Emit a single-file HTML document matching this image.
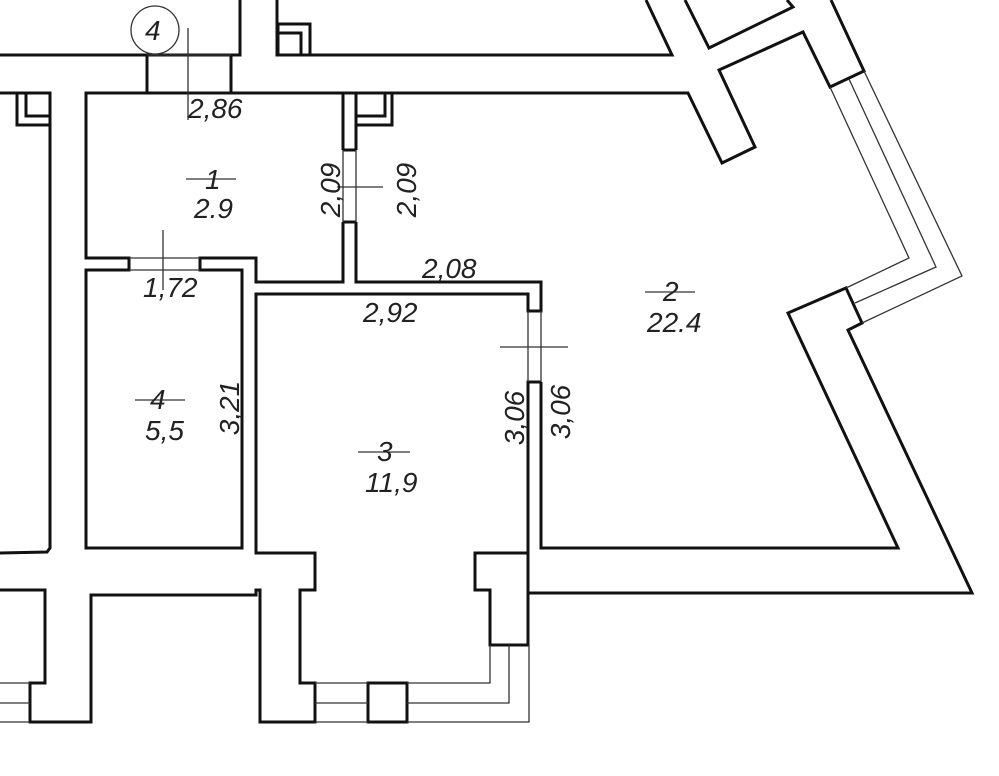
<!DOCTYPE html>
<html><head><meta charset="utf-8"><style>
html,body{margin:0;padding:0;background:#fff;}
svg{display:block}
text{font-family:"Liberation Sans",sans-serif;font-style:italic;font-size:28px;fill:#222;}
</style></head><body>
<svg width="999" height="776" viewBox="0 0 999 776" xmlns="http://www.w3.org/2000/svg">
<g fill="none" stroke="#111" stroke-width="3" stroke-linejoin="miter">
<polyline points="240,0 240,55 0,55"/>
<line x1="147" y1="55" x2="147" y2="93"/>
<line x1="231" y1="55" x2="231" y2="93"/>
<polyline points="277,0 277,55 672,55 646,0"/>
<polyline points="278,55 278,24 310,24 310,55"/>
<polyline points="301,55 301,33 278,33"/>
<polyline points="0,93 50,93 50,548 47,552 0,553"/>
<polyline points="17,93 17,125 50,125"/>
<polyline points="26,93 26,116 50,116"/>
<polyline points="356,93 343,93 86,93 86,258 129,258 129,270 86,270 86,548 242,548 242,270 200,270 200,258 256,258 256,282 343,282 343,222"/>
<line x1="343" y1="93" x2="343" y2="150"/>
<polyline points="343,150 356,150"/>
<polyline points="343,222 356,222"/>
<polyline points="356,150 356,93 688,93 722,163 755,147 719,70 803,32 830,87 864,71 831,0"/>
<polyline points="685,0 709,48 793,7 787,0"/>
<polyline points="356,222 356,282 541,282 541,311 528,311 528,294 256,294 256,553 315,553 315,590 300,590 300,683 315,683 315,722 260,722 260,590 256,590 256,595 91,595 91,722 30,722 30,683 45,683 45,590 0,590"/>
<polyline points="392,93 392,125 356,125"/>
<polyline points="385,93 385,116 356,116"/>
<polyline points="541,382 528,382 528,645 490,645 490,590 475,590 475,553 528,553"/>
<polyline points="541,382 541,548 898,548 788,313 846,288 862,323 848,330 972,593 528,593"/>
<rect x="368" y="683" width="39" height="39"/>
</g>
<g fill="none" stroke="#333" stroke-width="1.3">
<polyline points="830,87 909,258 846,288"/>
<polyline points="849,79 936,267 855,303"/>
<polyline points="864,71 962,276 862,323"/>
<line x1="315" y1="683" x2="368" y2="683"/>
<line x1="315" y1="703" x2="368" y2="703"/>
<line x1="315" y1="722" x2="368" y2="722"/>
<polyline points="407,683 490,683 490,645"/>
<polyline points="407,703 509,703 509,645"/>
<polyline points="407,722 529,722 529,645"/>
<line x1="0" y1="703" x2="30" y2="703"/>
<line x1="0" y1="683" x2="30" y2="683"/>
<line x1="0" y1="722" x2="30" y2="722"/>
<line x1="147" y1="55" x2="231" y2="55"/>
<line x1="129" y1="270" x2="200" y2="270"/>
<line x1="129" y1="258" x2="200" y2="258"/>
<line x1="343" y1="150" x2="343" y2="222"/>
<line x1="356" y1="150" x2="356" y2="222"/>
<line x1="528" y1="311" x2="528" y2="382"/>
<line x1="541" y1="311" x2="541" y2="382"/>
<line x1="188" y1="28" x2="188" y2="120"/>
<line x1="337" y1="187" x2="383" y2="187"/>
<line x1="163" y1="230" x2="163" y2="290"/>
<line x1="500" y1="347" x2="568" y2="347"/>
<circle cx="155" cy="30" r="24"/>
<line x1="186" y1="179" x2="236" y2="179"/>
<line x1="645" y1="292" x2="695" y2="292"/>
<line x1="135" y1="400" x2="185" y2="400"/>
<line x1="358" y1="452" x2="410" y2="452"/>
</g>
<text x="145" y="40" font-size="26">4</text>
<text x="188" y="118">2,86</text>
<text x="205" y="189">1</text>
<text x="194" y="218">2.9</text>
<text x="143" y="297">1,72</text>
<text x="422" y="278">2,08</text>
<text x="363" y="322">2,92</text>
<text x="663" y="301">2</text>
<text x="647" y="332">22.4</text>
<text x="150" y="409">4</text>
<text x="145" y="440">5,5</text>
<text x="377" y="461">3</text>
<text x="365" y="492">11,9</text>
<text transform="translate(340,190) rotate(-90)" text-anchor="middle">2,09</text>
<text transform="translate(416,190) rotate(-90)" text-anchor="middle">2,09</text>
<text transform="translate(239,408) rotate(-90)" text-anchor="middle">3,21</text>
<text transform="translate(524,418) rotate(-90)" text-anchor="middle">3,06</text>
<text transform="translate(570,412) rotate(-90)" text-anchor="middle">3,06</text>
</svg>
</body></html>
